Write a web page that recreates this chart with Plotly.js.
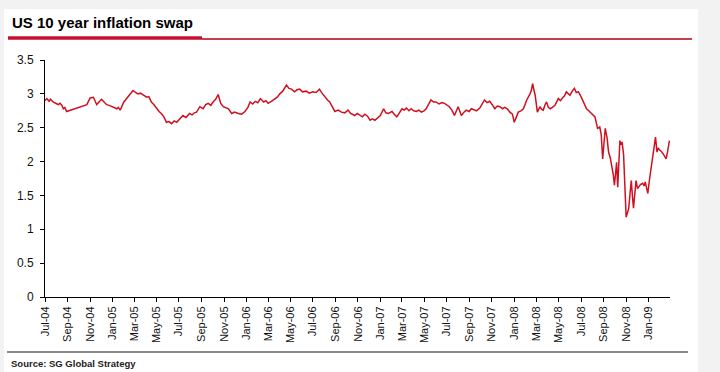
<!DOCTYPE html>
<html>
<head>
<meta charset="utf-8">
<script src="https://cdn.plot.ly/plotly-3.0.1.min.js"></script>
<style>
  html, body { margin: 0; padding: 0; background: #f2f2f2; }
  #chart { width: 720px; height: 372px; }
</style>
</head>
<body>
<div id="chart"></div>
<script>
// ---- Data ----
const chartTitle = "US 10 year inflation swap";
const sourceText = "Source: SG Global Strategy";
const seriesName = "US 10y inflation swap";

const dates = [
  "2004-07-01","2004-07-06","2004-07-12","2004-07-16","2004-07-23","2004-07-28",
  "2004-08-03","2004-08-06","2004-08-11","2004-08-16","2004-08-20","2004-08-24","2004-08-29",
  "2004-10-23","2004-11-01","2004-11-10","2004-11-14","2004-11-19","2004-11-25",
  "2004-12-02","2004-12-09","2004-12-16","2004-12-23","2004-12-30",
  "2005-01-05","2005-01-13","2005-01-17","2005-01-22","2005-02-01","2005-02-08","2005-02-14",
  "2005-02-19","2005-02-26","2005-03-05","2005-03-11","2005-03-18","2005-03-25",
  "2005-04-04","2005-04-10","2005-04-17","2005-04-24","2005-05-01","2005-05-08","2005-05-14",
  "2005-05-21","2005-05-28","2005-06-04","2005-06-11","2005-06-18","2005-06-25",
  "2005-07-02","2005-07-12","2005-07-20","2005-07-30","2005-08-06","2005-08-12","2005-08-18",
  "2005-08-27","2005-09-05","2005-09-12","2005-09-19","2005-09-26","2005-10-02","2005-10-09",
  "2005-10-16","2005-10-23","2005-10-30","2005-11-06","2005-11-13","2005-11-22","2005-11-30",
  "2005-12-10","2005-12-19","2005-12-28",
  "2006-01-05","2006-01-11","2006-01-18","2006-01-25","2006-02-01","2006-02-08","2006-02-17",
  "2006-02-23","2006-03-01","2006-03-10","2006-03-19","2006-03-26","2006-04-02","2006-04-10",
  "2006-04-20","2006-04-27","2006-05-04","2006-05-12","2006-05-19","2006-05-26","2006-06-03",
  "2006-06-13","2006-06-21","2006-07-01","2006-07-10","2006-07-19","2006-07-26","2006-08-03",
  "2006-08-10","2006-08-16","2006-08-23","2006-08-30","2006-09-08","2006-09-17","2006-09-26",
  "2006-10-05","2006-10-12","2006-10-18","2006-10-23","2006-10-30","2006-11-06","2006-11-13",
  "2006-11-20","2006-11-27","2006-12-04","2006-12-10","2006-12-17","2006-12-24",
  "2007-01-01","2007-01-10","2007-01-16","2007-01-23","2007-02-02","2007-02-08","2007-02-15",
  "2007-02-22","2007-03-01","2007-03-07","2007-03-13","2007-03-20","2007-03-26","2007-04-02",
  "2007-04-09","2007-04-16","2007-04-23","2007-04-30","2007-05-06","2007-05-12","2007-05-19",
  "2007-05-26","2007-06-02","2007-06-10","2007-06-18","2007-06-25","2007-07-01","2007-07-08",
  "2007-07-15","2007-07-22","2007-08-01","2007-08-06","2007-08-10","2007-08-17","2007-08-23",
  "2007-08-31","2007-09-06","2007-09-11","2007-09-20","2007-09-29","2007-10-05","2007-10-12",
  "2007-10-19","2007-10-26","2007-11-02","2007-11-09","2007-11-16","2007-11-23","2007-11-30",
  "2007-12-06","2007-12-13","2007-12-20","2007-12-27",
  "2008-01-01","2008-01-07","2008-01-12","2008-01-19","2008-01-26","2008-02-04","2008-02-09",
  "2008-02-13","2008-02-17","2008-02-20","2008-02-24","2008-02-27","2008-03-04","2008-03-11",
  "2008-03-16","2008-03-20","2008-03-25","2008-03-29","2008-04-03","2008-04-08","2008-04-14",
  "2008-04-21","2008-04-30","2008-05-06","2008-05-13","2008-05-17","2008-05-22","2008-06-01",
  "2008-06-07","2008-06-13","2008-06-18","2008-06-24","2008-06-30","2008-07-07","2008-07-12",
  "2008-07-16","2008-07-22","2008-07-29","2008-08-04","2008-08-08","2008-08-15","2008-08-21",
  "2008-08-25","2008-08-29","2008-09-02","2008-09-05","2008-09-10","2008-09-14","2008-09-19",
  "2008-09-23","2008-09-27","2008-09-30","2008-10-03","2008-10-06","2008-10-09","2008-10-11",
  "2008-10-15","2008-10-18","2008-10-21","2008-10-25","2008-10-29","2008-11-01","2008-11-05",
  "2008-11-08","2008-11-12","2008-11-15","2008-11-18","2008-11-21","2008-11-25","2008-11-28",
  "2008-12-02","2008-12-05","2008-12-10","2008-12-16","2008-12-20","2008-12-23","2008-12-27",
  "2008-12-30","2009-01-04","2009-01-08","2009-01-11","2009-01-16","2009-01-20","2009-01-24",
  "2009-01-27","2009-01-31","2009-02-05","2009-02-09","2009-02-12","2009-02-15","2009-02-18",
  "2009-02-22","2009-02-27"
];

const swapRate = [
  2.90,2.93,2.89,2.92,2.88,2.87,
  2.85,2.84,2.86,2.83,2.78,2.80,2.74,
  2.84,2.94,2.95,2.90,2.84,2.88,
  2.92,2.88,2.84,2.83,2.81,
  2.80,2.78,2.80,2.76,2.88,2.93,2.98,
  3.00,3.05,3.02,3.00,3.01,2.98,
  2.95,2.96,2.88,2.84,2.78,2.74,2.71,
  2.66,2.58,2.59,2.56,2.60,2.58,
  2.62,2.68,2.65,2.71,2.69,2.72,2.73,
  2.81,2.78,2.84,2.86,2.83,2.88,2.92,
  2.99,2.86,2.81,2.79,2.78,2.71,2.73,
  2.71,2.70,2.74,
  2.80,2.88,2.85,2.89,2.87,2.93,2.88,
  2.90,2.86,2.89,2.93,2.95,3.00,3.04,
  3.13,3.08,3.07,3.03,3.06,3.07,3.03,
  3.04,3.01,3.03,3.02,3.07,3.01,2.95,
  2.91,2.88,2.80,2.74,2.76,2.73,2.72,
  2.76,2.71,2.69,2.68,2.71,2.69,2.66,
  2.70,2.67,2.61,2.63,2.61,2.64,
  2.68,2.78,2.72,2.71,2.74,2.70,2.66,
  2.72,2.78,2.76,2.79,2.75,2.78,2.75,
  2.74,2.76,2.73,2.75,2.78,2.84,2.91,
  2.88,2.88,2.85,2.87,2.86,2.84,2.81,
  2.76,2.68,2.81,2.74,2.68,2.73,2.76,
  2.74,2.78,2.77,2.75,2.79,2.84,2.91,
  2.87,2.89,2.84,2.78,2.82,2.81,2.78,
  2.80,2.78,2.73,2.70,
  2.58,2.66,2.73,2.75,2.78,2.91,2.95,
  3.00,3.06,3.15,3.05,2.98,2.73,2.81,
  2.77,2.76,2.84,2.88,2.80,2.78,2.80,
  2.83,2.93,2.90,2.95,2.97,3.03,2.98,
  3.04,3.08,3.02,3.03,2.97,2.88,2.84,
  2.78,2.75,2.71,2.68,2.66,2.49,2.51,
  2.40,2.04,2.30,2.49,2.35,2.14,2.05,
  1.95,1.80,1.65,1.85,1.99,1.62,1.80,
  2.31,2.25,2.29,2.10,1.60,1.18,1.25,
  1.31,1.55,1.72,1.50,1.31,1.55,1.72,
  1.60,1.62,1.66,1.68,1.64,1.70,1.62,
  1.53,1.75,1.90,2.02,2.20,2.36,2.14,
  2.20,2.17,2.15,2.12,2.09,2.08,2.04,
  2.15,2.31
];

// Axis settings
const yTickVals = [0, 0.5, 1, 1.5, 2, 2.5, 3, 3.5];
const yTickText = ["0", "0.5", "1", "1.5", "2", "2.5", "3", "3.5"];

const trace = {
  x: dates,
  y: swapRate,
  type: "scatter",
  mode: "lines",
  name: seriesName,
  line: { color: "#d0101e", width: 1.5 },
  hoverinfo: "x+y"
};

// plot area: x 45..670 px, y 60..297 px
const PL = 45, PW = 625, PB = 297, PH = 237;
const px = v => (v - PL) / PW;
const py = v => (PB - v) / PH;

const FONT = "Liberation Sans, Arial, sans-serif";

const layout = {
  width: 720,
  height: 372,
  margin: { l: PL, r: 720 - PL - PW, t: PB - PH, b: 372 - PB, pad: 0 },
  paper_bgcolor: "#f2f2f2",
  plot_bgcolor: "#ffffff",
  showlegend: false,
  font: { family: FONT, size: 11, color: "#111" },
  xaxis: {
    type: "date",
    range: ["2004-07-01", "2009-02-28 12:00"],
    tick0: "2004-07-01",
    dtick: "M2",
    tickformat: "%b-%y",
    tickangle: -90,
    ticks: "outside",
    ticklen: 4,
    tickcolor: "#000",
    tickwidth: 1,
    showline: true,
    linecolor: "#000",
    linewidth: 1,
    showgrid: false,
    zeroline: false,
    tickfont: { size: 11, color: "#111" }
  },
  yaxis: {
    range: [0, 3.5],
    tickvals: yTickVals,
    ticktext: yTickText,
    ticks: "outside",
    ticklen: 4,
    tickcolor: "#000",
    ticklabelstandoff: 4,
    showline: true,
    linecolor: "#000",
    linewidth: 1,
    showgrid: false,
    zeroline: false,
    tickfont: { size: 12, color: "#111" }
  },
  shapes: [
    { type: "rect", xref: "paper", yref: "paper", layer: "below",
      x0: px(4), x1: px(698), y0: py(372), y1: py(9),
      fillcolor: "#ffffff", line: { width: 0 } },
    { type: "line", xref: "paper", yref: "paper",
      x0: px(202), x1: px(692), y0: py(39), y1: py(39),
      line: { color: "#b00010", width: 1.3 } },
    { type: "line", xref: "paper", yref: "paper",
      x0: px(8), x1: px(202), y0: py(38), y1: py(38),
      line: { color: "#c8102e", width: 3.5 } },
    { type: "line", xref: "paper", yref: "paper",
      x0: px(7), x1: px(688), y0: py(352), y1: py(352),
      line: { color: "#8a8a8a", width: 2 } }
  ],
  annotations: [
    { text: "<b>" + chartTitle + "</b>", xref: "paper", yref: "paper",
      x: px(10), y: py(23), xanchor: "left", yanchor: "middle", showarrow: false,
      font: { size: 15, color: "#000", family: FONT } },
    { text: "<b>" + sourceText + "</b>", xref: "paper", yref: "paper",
      x: px(9), y: py(363), xanchor: "left", yanchor: "middle", showarrow: false,
      font: { size: 9.5, color: "#222", family: FONT } }
  ]
};

Plotly.newPlot("chart", [trace], layout, { staticPlot: true, displayModeBar: false });
</script>
</body>
</html>
